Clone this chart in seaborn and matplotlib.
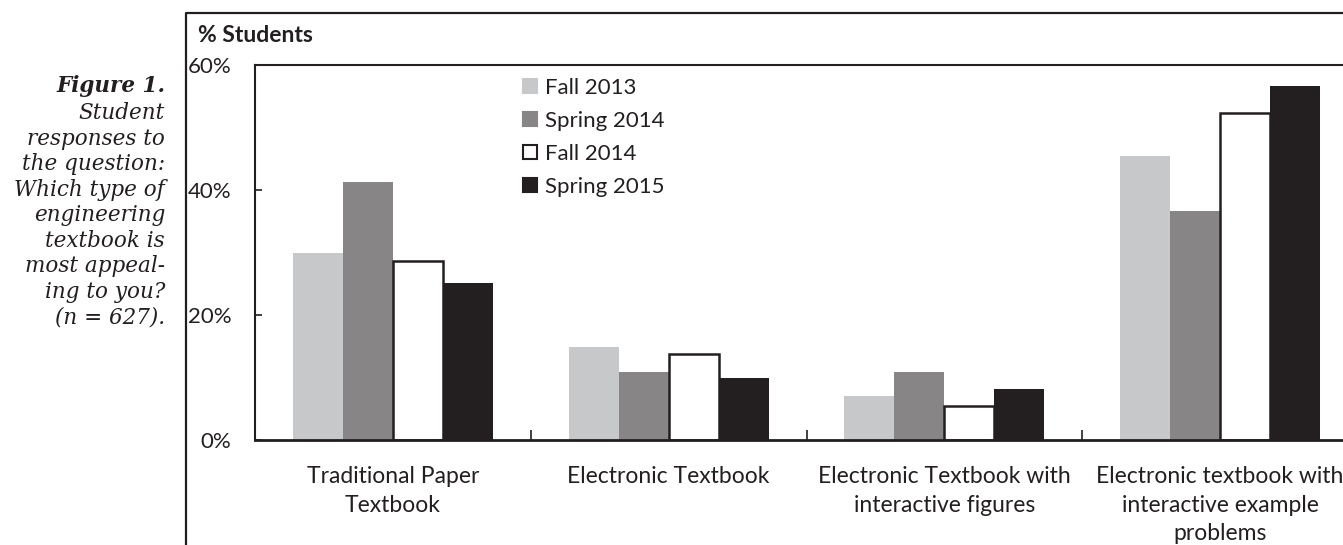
import numpy as np
import pandas as pd
import matplotlib.pyplot as plt
import seaborn as sns
from matplotlib.patches import Patch
from matplotlib.lines import Line2D
from matplotlib.ticker import FixedLocator, FuncFormatter

categories = [
    "Traditional Paper\nTextbook",
    "Electronic Textbook",
    "Electronic Textbook with\ninteractive figures",
    "Electronic textbook with\ninteractive example\nproblems",
]
semesters = ["Fall 2013", "Spring 2014", "Fall 2014", "Spring 2015"]
fall_2013 = [29.9, 14.9, 7.1, 45.5]
spring_2014 = [41.3, 10.9, 10.9, 36.7]
fall_2014 = [28.6, 13.8, 5.4, 52.3]
spring_2015 = [25.1, 10.0, 8.1, 56.6]
y_ticks = [0, 20, 40, 60]

caption_title = "Figure 1."
caption_lines = [
    "Student",
    "responses to",
    "the question:",
    "Which type of",
    "engineering",
    "textbook is",
    "most appeal-",
    "ing to you?",
    "(n = 627).",
]

colors = {
    "Fall 2013": "#c7c8ca",
    "Spring 2014": "#878586",
    "Fall 2014": "#ffffff",
    "Spring 2015": "#231f20",
}
ink = "#231f20"

df = pd.DataFrame({
    "category": categories * 4,
    "semester": np.repeat(semesters, len(categories)),
    "value": fall_2013 + spring_2014 + fall_2014 + spring_2015,
})

sns.set_style("white")
plt.rcParams["font.family"] = ["Lato", "DejaVu Sans"]

W, H = 1343, 545
fig = plt.figure(figsize=(W / 100, H / 100), dpi=100)
ax = fig.add_axes([255 / W, (H - 440) / H, (1358 - 255) / W, (440 - 65) / H])

sns.barplot(
    data=df, x="category", y="value", hue="semester",
    order=categories, hue_order=semesters, palette=colors,
    width=0.725, linewidth=0, saturation=1, legend=False, ax=ax,
)
# white series gets a dark outline
for bar in ax.containers[2]:
    bar.set_edgecolor(ink)
    bar.set_linewidth(1.8)

ax.set_xlim(-0.5, 3.5)
ax.set_ylim(0, 60)
ax.set_xlabel("")
ax.set_ylabel("")

ax.yaxis.set_major_locator(FixedLocator(y_ticks))
ax.yaxis.set_major_formatter(FuncFormatter(lambda v, p: f"{v:.0f}%"))
ax.tick_params(axis="y", direction="in", length=5, width=1.2, color=ink,
               pad=17, labelsize=16, labelcolor=ink, left=True)

ax.set_xticks(range(len(categories)))
ax.set_xticklabels(categories, linespacing=1.42)
ax.xaxis.set_minor_locator(FixedLocator(np.arange(-0.5, 3.6, 1.0)))
ax.tick_params(axis="x", which="major", length=0, pad=19, labelsize=16.5,
               labelcolor=ink)
ax.tick_params(axis="x", which="minor", direction="in", length=7, width=1.2,
               color=ink, bottom=True)

for side in ["left", "top", "bottom", "right"]:
    ax.spines[side].set_color(ink)
ax.spines["left"].set_linewidth(1.5)
ax.spines["top"].set_linewidth(1.5)
ax.spines["bottom"].set_linewidth(2.0)
ax.grid(False)

handles = [
    Patch(facecolor=colors[s], edgecolor=(ink if s == "Fall 2014" else colors[s]),
          linewidth=1.5)
    for s in semesters
]
fig.legend(
    handles, semesters, loc="upper left",
    bbox_to_anchor=(523 / W, (H - 78) / H), frameon=False,
    fontsize=16, handlelength=0.62, handleheight=0.62, handletextpad=0.35,
    labelspacing=0.58, borderaxespad=0, borderpad=0,
    labelcolor=ink,
)

# outer frame of the figure panel
fig.add_artist(Line2D([186 / W, 186 / W, 1.02], [-0.02, (H - 13) / H, (H - 13) / H],
                      transform=fig.transFigure, color=ink, linewidth=1.6))
fig.text(198 / W, (H - 36) / H, "% Students", fontsize=16.5, fontweight="bold",
         color=ink, ha="left", va="center")

serif = ["DejaVu Serif"]
fig.text(165 / W, (H - 86) / H, caption_title, family=serif, style="italic",
         fontweight="bold", fontsize=15.5, color=ink, ha="right", va="center")
fig.text(165 / W, (H - 102) / H, "\n".join(caption_lines), family=serif,
         style="italic", fontsize=15.5, color=ink, ha="right", va="top",
         linespacing=1.21, multialignment="right")

fig.savefig("out.png", dpi=100)
